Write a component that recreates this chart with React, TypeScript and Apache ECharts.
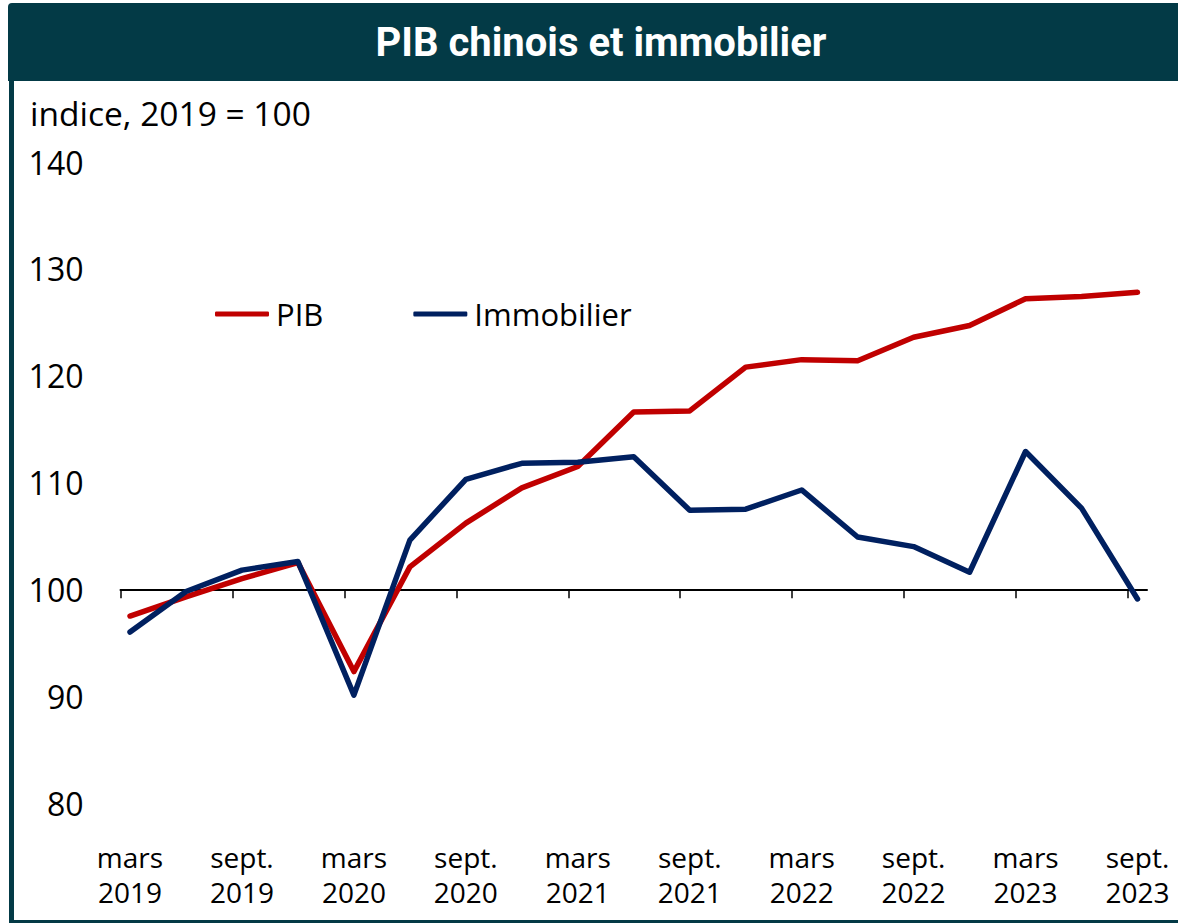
import React, { useEffect, useRef } from "react";
import * as echarts from "echarts";

const quarters = [
  "mars\n2019", "juin\n2019", "sept.\n2019", "déc.\n2019",
  "mars\n2020", "juin\n2020", "sept.\n2020", "déc.\n2020",
  "mars\n2021", "juin\n2021", "sept.\n2021", "déc.\n2021",
  "mars\n2022", "juin\n2022", "sept.\n2022", "déc.\n2022",
  "mars\n2023", "juin\n2023", "sept.\n2023",
];
const pib = [97.5, 99.3, 101.0, 102.5, 92.3, 102.1, 106.2, 109.5, 111.5, 116.6, 116.7, 120.8, 121.5, 121.4, 123.6, 124.7, 127.2, 127.4, 127.8];
const immobilier = [96.0, 99.8, 101.8, 102.6, 90.1, 104.6, 110.3, 111.8, 111.9, 112.4, 107.4, 107.5, 109.3, 104.9, 104.0, 101.6, 112.9, 107.6, 99.1];
const seriesNames = ["PIB", "Immobilier"];
const seriesColors = ["#C00000", "#002060"];
const yMin = 80;
const yMax = 140;
const yInterval = 10;
const baseValue = 100;
const title = "PIB chinois et immobilier";
const yUnit = "indice, 2019 = 100";

const labelIdx = quarters.map((_, i) => i).filter((i) => i % 2 === 0);
const tickShift = 0.17;

export default function App() {
  const ref = useRef<HTMLDivElement>(null);
  useEffect(() => {
    if (!ref.current) return;
    const chart = echarts.init(ref.current, null, { renderer: "svg" });
    const font = "'Open Sans', 'Noto Sans', sans-serif";
    const gridTop = 162;
    const gridBottom = 120;
    const H = 923;
    const plotH = H - gridTop - gridBottom;
    const axisOffset = -((baseValue - yMin) / (yMax - yMin)) * plotH;
    chart.setOption({
      animation: false,
      backgroundColor: "#ffffff",
      textStyle: { fontFamily: font },
      grid: { left: 120.5, right: 31, top: gridTop, bottom: gridBottom, containLabel: false },
      legend: {
        data: seriesNames,
        left: 215,
        top: 296,
        padding: 0,
        itemWidth: 54,
        itemHeight: 5,
        itemGap: 90,
        icon: "roundRect",
        textStyle: { fontSize: 31, color: "#000", fontFamily: font, lineHeight: 36, padding: [0, 0, 0, 2] },
      },
      xAxis: {
        type: "value",
        min: -tickShift,
        max: quarters.length - 1 + tickShift,
        offset: axisOffset,
        axisLine: { show: true, lineStyle: { color: "#000", width: 2 } },
        axisTick: {
          show: true,
          length: 9,
          inside: false,
          lineStyle: { color: "#000", width: 1.5 },
          customValues: labelIdx.map((i) => i - tickShift),
        },
        axisLabel: {
          customValues: labelIdx,
          formatter: (v: number) => quarters[Math.round(v)] ?? "",
          margin: 250,
          fontSize: 28,
          lineHeight: 35,
          color: "#000",
          fontFamily: font,
          verticalAlign: "top",
        },
        splitLine: { show: false },
      },
      yAxis: {
        type: "value",
        min: yMin,
        max: yMax,
        interval: yInterval,
        axisLine: { show: false },
        axisTick: { show: false },
        splitLine: { show: false },
        axisLabel: { fontSize: 32, color: "#000", margin: 37, fontFamily: font },
      },
      series: [
        {
          name: seriesNames[0],
          type: "line",
          data: pib.map((v, i) => [i, v]),
          showSymbol: false,
          symbol: "none",
          color: seriesColors[0],
          lineStyle: { color: seriesColors[0], width: 5.5, cap: "round", join: "round" },
        },
        {
          name: seriesNames[1],
          type: "line",
          data: immobilier.map((v, i) => [i, v]),
          showSymbol: false,
          symbol: "none",
          color: seriesColors[1],
          lineStyle: { color: seriesColors[1], width: 5.5, cap: "round", join: "round" },
        },
      ],
      graphic: [
        {
          type: "rect",
          shape: { x: 8, y: 3, width: 1170, height: 78, r: [4, 0, 0, 0] },
          style: { fill: "#033A46" },
          silent: true,
        },
        {
          type: "text",
          x: 601,
          y: 42,
          style: {
            text: title,
            fill: "#ffffff",
            font: "bold 40px Roboto, sans-serif",
            textAlign: "center",
            textVerticalAlign: "middle",
          },
          silent: true,
        },
        {
          type: "rect",
          shape: { x: 9, y: 81, width: 5, height: 842 },
          style: { fill: "#033A46" },
          silent: true,
        },
        {
          type: "rect",
          shape: { x: 9, y: 920, width: 1169, height: 3 },
          style: { fill: "#033A46" },
          silent: true,
        },
        {
          type: "text",
          x: 30,
          y: 113,
          style: {
            text: yUnit,
            fill: "#000",
            font: `33.5px ${font}`,
            textAlign: "left",
            textVerticalAlign: "middle",
          },
          silent: true,
        },
      ],
    });
    return () => chart.dispose();
  }, []);
  return (
    <div
      ref={ref}
      style={{ position: "fixed", left: 0, top: 0, width: 1178, height: 923, background: "#fff" }}
    />
  );
}
